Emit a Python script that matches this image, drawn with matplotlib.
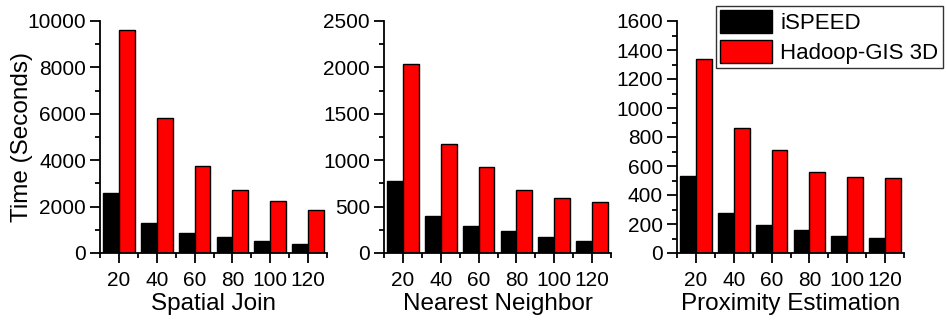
import numpy as np
import matplotlib.pyplot as plt
from matplotlib.ticker import MultipleLocator, FixedLocator

plt.rcParams['font.family'] = ['Liberation Sans', 'DejaVu Sans']

sizes = [20, 40, 60, 80, 100, 120]

# running time in seconds for each query type
sj_ispeed = [2590, 1310, 860, 690, 510, 370]
sj_hadoop = [9600, 5840, 3730, 2720, 2240, 1870]
nn_ispeed = [775, 400, 290, 237, 177, 134]
nn_hadoop = [2035, 1175, 932, 680, 598, 550]
pe_ispeed = [530, 276, 191, 157, 120, 104]
pe_hadoop = [1338, 859, 711, 562, 525, 514]

panels = [
    ("Spatial Join", sj_ispeed, sj_hadoop, 10000, 2000, 1000),
    ("Nearest Neighbor", nn_ispeed, nn_hadoop, 2500, 500, 250),
    ("Proximity Estimation", pe_ispeed, pe_hadoop, 1600, 200, 100),
]

fig = plt.figure(figsize=(9.47, 3.24), dpi=100)
lefts = [100 / 947, 384 / 947, 677 / 947]
bottom = 71 / 324
width = 227 / 947
height = 232 / 324

x = np.arange(1, len(sizes) + 1)
w = 0.42

for i, (name, a, b, ymax, major, minor) in enumerate(panels):
    ax = fig.add_axes([lefts[i], bottom, width, height])
    ax.bar(x - w / 2, a, width=w, color='black', edgecolor='black', linewidth=1, label='iSPEED')
    ax.bar(x + w / 2, b, width=w, color='#ff0000', edgecolor='black', linewidth=1, label='Hadoop-GIS 3D')
    ax.set_xlim(0.5, 6.5)
    ax.set_ylim(0, ymax)
    ax.set_xticks(x)
    ax.set_xticklabels([str(s) for s in sizes])
    ax.xaxis.set_minor_locator(FixedLocator(np.arange(0.5, 7, 1.0)))
    ax.yaxis.set_major_locator(MultipleLocator(major))
    ax.yaxis.set_minor_locator(MultipleLocator(minor))
    for side in ['top', 'right']:
        ax.spines[side].set_visible(False)
    for side in ['left', 'bottom']:
        ax.spines[side].set_linewidth(1.3)
    ax.tick_params(which='major', direction='out', length=7, width=1.3, labelsize=15)
    ax.tick_params(axis='y', which='major', pad=3)
    ax.tick_params(axis='x', which='major', pad=6)
    ax.tick_params(which='minor', direction='out', length=3.6, width=1.3)
    ax.set_xlabel(name, fontsize=17.5, labelpad=2)
    if i == 0:
        ax.set_ylabel("Time (Seconds)", fontsize=17.5)
        ax.yaxis.set_label_coords(-0.295, 0.5)
    if i == 2:
        handles, labels = ax.get_legend_handles_labels()

fig.legend(handles, labels, loc='upper right', bbox_to_anchor=(943 / 947, 1 - 6 / 324),
           fontsize=16, frameon=True, fancybox=False, edgecolor='black',
           handlelength=2.3, handleheight=1.2, handletextpad=0.4,
           borderpad=0.2, labelspacing=0.25, borderaxespad=0)
fig.legends[0].get_frame().set_linewidth(1.0)

fig.savefig("out.png", dpi=100)
